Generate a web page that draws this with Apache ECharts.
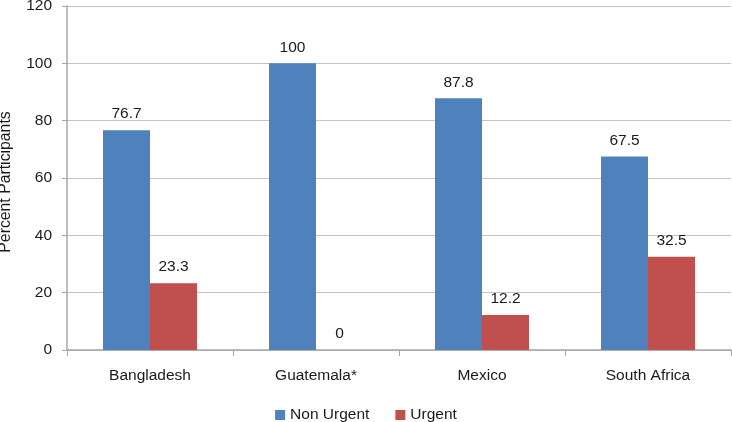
<!DOCTYPE html>
<html><head><meta charset="utf-8">
<script src="https://cdn.jsdelivr.net/npm/echarts@6/dist/echarts.min.js"></script>
<style>html,body{margin:0;padding:0;background:#fff}#c{width:732px;height:422px}</style>
</head><body><div id="c"></div>
<script>
const categories = ['Bangladesh', 'Guatemala*', 'Mexico', 'South Africa'];
const nonUrgent = [76.7, 100, 87.8, 67.5];
const urgent = [23.3, 0, 12.2, 32.5];
const yTicks = { min: 0, max: 120, interval: 20 };

const chart = echarts.init(document.getElementById('c'), null, { renderer: 'canvas' });
const font = 'Liberation Sans, Arial, Helvetica, sans-serif';
const fs = 15.5;
const lbl = { show: true, position: 'top', distance: 8, color: '#1a1a1a', fontSize: fs, fontFamily: font };
chart.setOption({
  animation: false,
  textStyle: { fontFamily: font },
  grid: { left: 67, right: 1, top: 6, bottom: 72, containLabel: false, outerBoundsMode: 'none' },
  legend: {
    top: 402, left: 'center', itemWidth: 10, itemHeight: 10, itemGap: 26,
    icon: 'rect', textStyle: { fontSize: fs, color: '#1a1a1a', fontFamily: font },
    data: ['Non Urgent', 'Urgent']
  },
  xAxis: {
    type: 'category', data: categories,
    axisLine: { lineStyle: { color: '#a6a6a6', width: 1.5 } },
    axisTick: { show: true, length: 6, lineStyle: { color: '#a6a6a6' } },
    axisLabel: { color: '#1a1a1a', fontSize: fs, margin: 18, fontFamily: font }
  },
  yAxis: {
    type: 'value', min: yTicks.min, max: yTicks.max, interval: yTicks.interval,
    name: 'Percent Participants', nameLocation: 'middle', nameGap: 53, nameRotate: 90,
    nameTextStyle: { fontSize: 15.8, color: '#1a1a1a', fontFamily: font, padding: [0, 8, 0, 0] },
    axisLine: { show: true, lineStyle: { color: '#a6a6a6', width: 1.5 } },
    axisTick: { show: true, length: 5, lineStyle: { color: '#a6a6a6' } },
    axisLabel: { color: '#1a1a1a', fontSize: fs, margin: 15, fontFamily: font },
    splitLine: { show: true, lineStyle: { color: '#c4c4c4', width: 1.2 } }
  },
  series: [
    { name: 'Non Urgent', type: 'bar', data: nonUrgent, barWidth: 47, barGap: '0%',
      itemStyle: { color: '#4F81BD' }, label: lbl },
    { name: 'Urgent', type: 'bar', data: urgent, barWidth: 47, barGap: '0%',
      itemStyle: { color: '#C0504D' }, label: lbl }
  ]
});
</script></body></html>
